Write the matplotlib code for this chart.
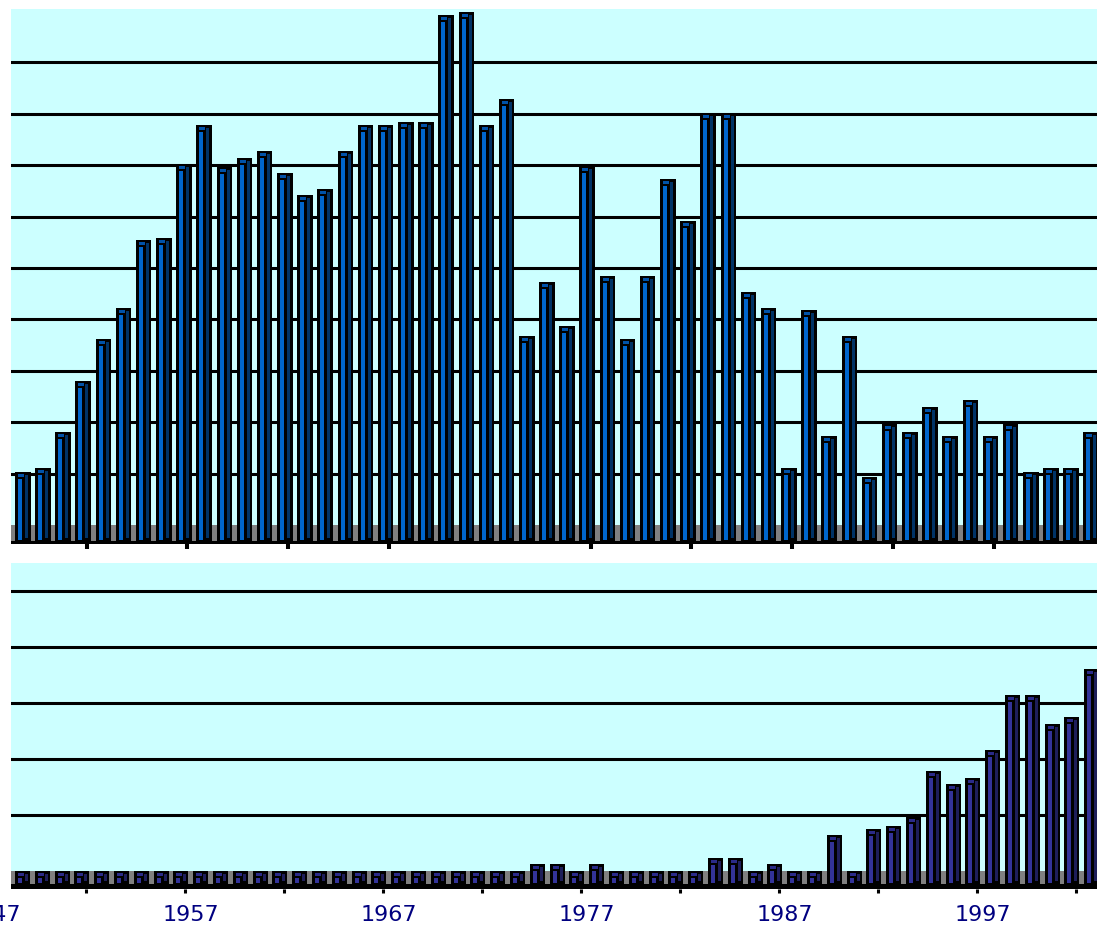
import numpy as np
import matplotlib
matplotlib.use("Agg")
import matplotlib.pyplot as plt
from matplotlib.transforms import blended_transform_factory

# ---------------- data (grid units: one gridline = 1) ----------------
years_top = list(range(1948, 2002))
values_top = [1.03, 1.11, 1.81, 2.80, 3.62, 4.22, 5.54, 5.58, 7.02, 7.78,
              6.96, 7.14, 7.28, 6.85, 6.42, 6.54, 7.28, 7.78, 7.78, 7.84,
              7.84, 9.92, 9.98, 7.78, 8.29, 3.68, 4.73, 3.87, 6.98, 4.84,
              3.62, 4.84, 6.73, 5.91, 8.02, 8.02, 4.53, 4.22, 1.11, 4.18,
              1.73, 3.68, 0.93, 1.96, 1.81, 2.30, 1.73, 2.43, 1.73, 1.96,
              1.03, 1.11, 1.11, 1.81]

years_bottom = list(range(1948, 2003))
values_bottom = [0, 0, 0, 0, 0, 0, 0, 0, 0, 0,
                 0, 0, 0, 0, 0, 0, 0, 0, 0, 0,
                 0, 0, 0, 0, 0, 0, 0.125, 0.125, 0, 0.125,
                 0, 0, 0, 0, 0, 0.23, 0.23, 0, 0.125, 0,
                 0, 0.64, 0, 0.75, 0.80, 0.96, 1.79, 1.55, 1.66, 2.16,
                 3.14, 3.14, 2.63, 2.75, 3.61]

label_years = [1947, 1957, 1967, 1977, 1987, 1997]
tick_years_top = [1952, 1957, 1962, 1967, 1977, 1982, 1987, 1992, 1997]
tick_years_bottom = [1952, 1957, 1962, 1967, 1972, 1977, 1982, 1987, 1992, 1997, 2002]
base_year = 1948

# ---------------- figure ----------------
W, H = 1097, 929
fig = plt.figure(figsize=(W / 100, H / 100), dpi=100)
fig.patch.set_facecolor('white')

CYAN = '#CCFFFF'
GRAY = '#808080'


def make_panel(left_px, top_px, right_px, bottom_px, x0px, sx, zero_py, sy,
               floor_py, ngrid, years, vals, colors, barw_px,
               tick_years, tick_off, tick_len, tick_w):
    ax = fig.add_axes([left_px / W, 1 - bottom_px / H,
                       (right_px - left_px) / W, (bottom_px - top_px) / H])
    ax.set_facecolor(CYAN)
    for s in ax.spines.values():
        s.set_visible(False)
    xlim = ((left_px - x0px) / sx, (right_px - x0px) / sx)
    ylim = ((zero_py - bottom_px) / sy, (zero_py - top_px) / sy)
    ax.set_xlim(*xlim)
    ax.set_ylim(*ylim)
    floor = (zero_py - floor_py) / sy

    for g in range(1, ngrid + 1):
        ax.axhline(g, color='black', lw=2.2, zorder=1)
    ax.axhspan(floor, 0, color=GRAY, lw=0, zorder=1.5)
    ax.axhspan(ylim[0] - 1, floor, color='black', lw=0, zorder=5)

    idx = np.array(years) - base_year
    v = np.array(vals, dtype=float)
    front, side, topc = colors
    px = 1.0 / sx
    py = 1.0 / sy
    # body (black outline)
    ax.bar(idx, v - floor, bottom=floor, width=barw_px * px, align='edge',
           color='black', linewidth=0, zorder=3)
    # front face stripe
    ax.bar(idx + 3 * px, np.clip(v - 7 * py - (floor + 1 * py), 0, None),
           bottom=floor + 1 * py, width=4 * px, align='edge',
           color=front, linewidth=0, zorder=4)
    # side face stripe
    ax.bar(idx + 10 * px, np.clip(v - 3 * py - (floor + 3 * py), 0, None),
           bottom=floor + 3 * py, width=3 * px, align='edge',
           color=side, linewidth=0, zorder=4)
    # top face square
    ax.bar(idx + 3 * px, 3 * py, bottom=v - 5 * py, width=6 * px,
           align='edge', color=topc, linewidth=0, zorder=4)

    ax.set_yticks([])
    ax.set_xticks(np.array(tick_years) - base_year + tick_off)
    ax.set_xticklabels([])
    ax.tick_params(axis='x', which='major', direction='out', length=tick_len,
                   width=tick_w, color='black')
    return ax


# top panel
ax1 = make_panel(11, 10, 1097, 545, 15, 20.16, 526, 51.4, 542, 9,
                 years_top, values_top, ('#0066CC', '#003366', '#0052A8'),
                 15.5, tick_years_top, -0.45, 3.6, 2.9)

# bottom panel
ax2 = make_panel(11, 564, 1097, 890, 15, 19.8, 872, 56.0, 885, 5,
                 years_bottom, values_bottom, ('#333399', '#1E1E5A', '#2A2A88'),
                 15.0, tick_years_bottom, -0.4, 2.9, 2.2)

trans = blended_transform_factory(ax2.transData, ax2.transAxes)
ylab = -(905 - 890) / (890 - 564)
for yr in label_years:
    ax2.text(yr - base_year - 0.1, ylab, str(yr), transform=trans,
             ha='center', va='top', fontsize=16, color='#000080',
             family='DejaVu Sans', clip_on=False)

fig.savefig('out.png', dpi=100, facecolor='white')
